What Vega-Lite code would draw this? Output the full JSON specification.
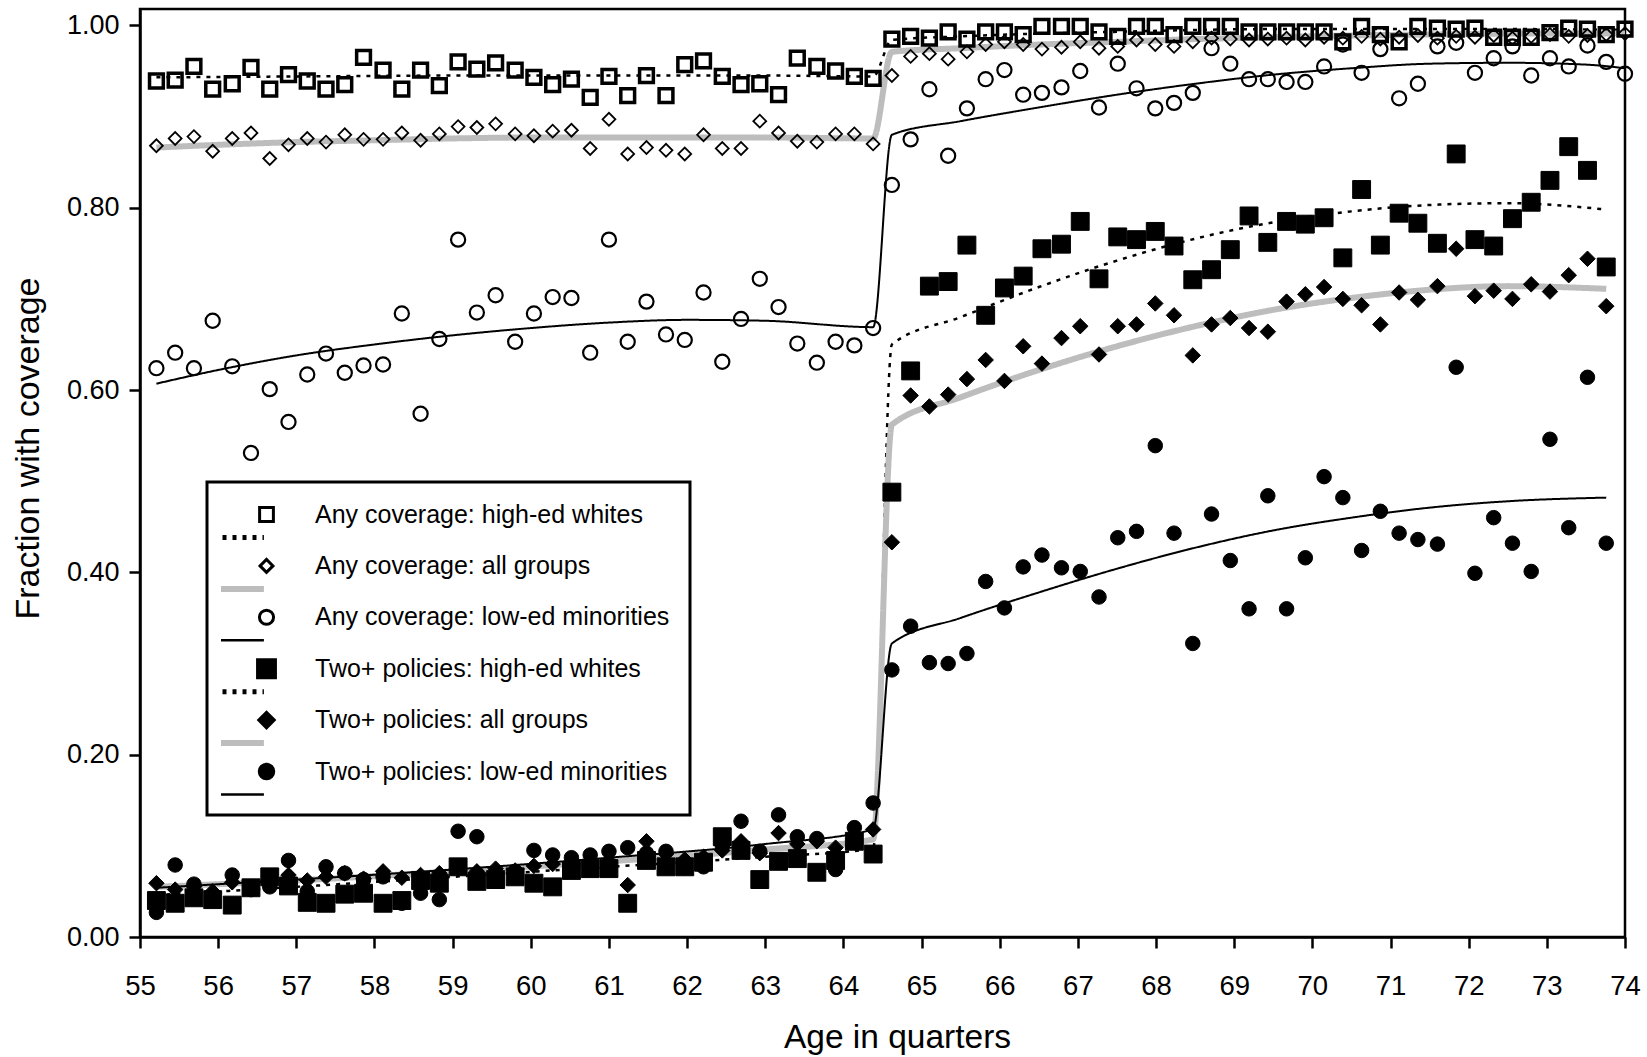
{
"$schema": "https://vega.github.io/schema/vega-lite/v6.json",
"width": 1485, "height": 928,
"autosize": {"type": "none"},
"padding": {"left": 140, "top": 9, "right": 22, "bottom": 120},
"background": "white",
"config": {
  "view": {"stroke": "black", "strokeWidth": 2.5},
  "font": "Liberation Sans",
  "axis": {"domainColor": "black", "domainWidth": 2.5, "tickColor": "black", "tickWidth": 2.5, "tickSize": 11, "labelColor": "black", "titleColor": "black", "labelFont": "Liberation Sans", "titleFont": "Liberation Sans", "titleFontWeight": "normal", "grid": false},
  "legend": {"labelFont": "Liberation Sans", "labelColor": "black", "strokeWidth": 3}
},
"resolve": {"scale": {"strokeWidth": "independent"}},
"datasets": {
"fits": [
{"fit":"a","age":55.21,"frac":0.943},{"fit":"a","age":57,"frac":0.944},{"fit":"a","age":59,"frac":0.945},{"fit":"a","age":61,"frac":0.945},{"fit":"a","age":63,"frac":0.945},{"fit":"a","age":64.38,"frac":0.944},{"fit":"a","age":64.62,"frac":0.984},{"fit":"a","age":65.5,"frac":0.988},{"fit":"a","age":66.5,"frac":0.991},{"fit":"a","age":67.5,"frac":0.993},{"fit":"a","age":68.5,"frac":0.995},{"fit":"a","age":69.5,"frac":0.996},{"fit":"a","age":70.5,"frac":0.996},{"fit":"a","age":71.5,"frac":0.996},{"fit":"a","age":72.5,"frac":0.996},{"fit":"a","age":74.0,"frac":0.995},
{"fit":"b","age":55.21,"frac":0.866},{"fit":"b","age":56,"frac":0.869},{"fit":"b","age":57,"frac":0.872},{"fit":"b","age":58,"frac":0.874},{"fit":"b","age":59,"frac":0.876},{"fit":"b","age":60,"frac":0.877},{"fit":"b","age":61,"frac":0.877},{"fit":"b","age":62,"frac":0.877},{"fit":"b","age":63,"frac":0.877},{"fit":"b","age":64.38,"frac":0.876},{"fit":"b","age":64.62,"frac":0.971},{"fit":"b","age":65.5,"frac":0.975},{"fit":"b","age":66.5,"frac":0.979},{"fit":"b","age":67.5,"frac":0.982},{"fit":"b","age":68.5,"frac":0.985},{"fit":"b","age":69.5,"frac":0.987},{"fit":"b","age":70.5,"frac":0.989},{"fit":"b","age":71.5,"frac":0.990},{"fit":"b","age":72.5,"frac":0.991},{"fit":"b","age":74.0,"frac":0.991},
{"fit":"c","age":55.21,"frac":0.607},{"fit":"c","age":56,"frac":0.622},{"fit":"c","age":57,"frac":0.638},{"fit":"c","age":58,"frac":0.650},{"fit":"c","age":59,"frac":0.660},{"fit":"c","age":60,"frac":0.668},{"fit":"c","age":61,"frac":0.674},{"fit":"c","age":62,"frac":0.677},{"fit":"c","age":63,"frac":0.676},{"fit":"c","age":64.38,"frac":0.669},{"fit":"c","age":64.62,"frac":0.880},{"fit":"c","age":65.5,"frac":0.895},{"fit":"c","age":66.5,"frac":0.910},{"fit":"c","age":67.5,"frac":0.924},{"fit":"c","age":68.5,"frac":0.936},{"fit":"c","age":69.5,"frac":0.946},{"fit":"c","age":70.5,"frac":0.953},{"fit":"c","age":71.5,"frac":0.958},{"fit":"c","age":72.5,"frac":0.959},{"fit":"c","age":73.5,"frac":0.957},{"fit":"c","age":74.0,"frac":0.953},
{"fit":"d","age":55.21,"frac":0.046},{"fit":"d","age":57,"frac":0.055},{"fit":"d","age":59,"frac":0.066},{"fit":"d","age":61,"frac":0.077},{"fit":"d","age":63,"frac":0.088},{"fit":"d","age":64.38,"frac":0.097},{"fit":"d","age":64.62,"frac":0.650},{"fit":"d","age":65.5,"frac":0.680},{"fit":"d","age":66.5,"frac":0.713},{"fit":"d","age":67.5,"frac":0.742},{"fit":"d","age":68.5,"frac":0.766},{"fit":"d","age":69.5,"frac":0.784},{"fit":"d","age":70.5,"frac":0.796},{"fit":"d","age":71.5,"frac":0.803},{"fit":"d","age":72.5,"frac":0.805},{"fit":"d","age":73.76,"frac":0.798},
{"fit":"e","age":55.21,"frac":0.055},{"fit":"e","age":57,"frac":0.062},{"fit":"e","age":59,"frac":0.072},{"fit":"e","age":61,"frac":0.083},{"fit":"e","age":63,"frac":0.096},{"fit":"e","age":64.38,"frac":0.107},{"fit":"e","age":64.62,"frac":0.562},{"fit":"e","age":65.5,"frac":0.592},{"fit":"e","age":66.5,"frac":0.622},{"fit":"e","age":67.5,"frac":0.648},{"fit":"e","age":68.5,"frac":0.670},{"fit":"e","age":69.5,"frac":0.688},{"fit":"e","age":70.5,"frac":0.701},{"fit":"e","age":71.5,"frac":0.710},{"fit":"e","age":72.5,"frac":0.714},{"fit":"e","age":73.76,"frac":0.711},
{"fit":"f","age":55.21,"frac":0.054},{"fit":"f","age":57,"frac":0.063},{"fit":"f","age":59,"frac":0.074},{"fit":"f","age":61,"frac":0.087},{"fit":"f","age":63,"frac":0.102},{"fit":"f","age":64.38,"frac":0.118},{"fit":"f","age":64.62,"frac":0.322},{"fit":"f","age":65.5,"frac":0.350},{"fit":"f","age":66.5,"frac":0.378},{"fit":"f","age":67.5,"frac":0.404},{"fit":"f","age":68.5,"frac":0.427},{"fit":"f","age":69.5,"frac":0.446},{"fit":"f","age":70.5,"frac":0.460},{"fit":"f","age":71.5,"frac":0.471},{"fit":"f","age":72.5,"frac":0.478},{"fit":"f","age":73.76,"frac":0.482}
],
"pts": [
{"g":"A","age":55.21,"frac":0.939},{"g":"A","age":55.45,"frac":0.940},{"g":"A","age":55.69,"frac":0.955},{"g":"A","age":55.93,"frac":0.930},{"g":"A","age":56.18,"frac":0.936},{"g":"A","age":56.42,"frac":0.954},{"g":"A","age":56.66,"frac":0.930},{"g":"A","age":56.90,"frac":0.946},{"g":"A","age":57.14,"frac":0.939},{"g":"A","age":57.38,"frac":0.930},{"g":"A","age":57.62,"frac":0.935},{"g":"A","age":57.86,"frac":0.965},{"g":"A","age":58.11,"frac":0.951},{"g":"A","age":58.35,"frac":0.930},{"g":"A","age":58.59,"frac":0.951},{"g":"A","age":58.83,"frac":0.934},{"g":"A","age":59.07,"frac":0.960},{"g":"A","age":59.31,"frac":0.952},{"g":"A","age":59.55,"frac":0.959},{"g":"A","age":59.80,"frac":0.951},{"g":"A","age":60.04,"frac":0.943},{"g":"A","age":60.28,"frac":0.935},{"g":"A","age":60.52,"frac":0.941},{"g":"A","age":60.76,"frac":0.921},{"g":"A","age":61.00,"frac":0.944},{"g":"A","age":61.24,"frac":0.923},{"g":"A","age":61.48,"frac":0.945},{"g":"A","age":61.73,"frac":0.923},{"g":"A","age":61.97,"frac":0.957},{"g":"A","age":62.21,"frac":0.961},{"g":"A","age":62.45,"frac":0.944},{"g":"A","age":62.69,"frac":0.935},{"g":"A","age":62.93,"frac":0.936},{"g":"A","age":63.17,"frac":0.924},{"g":"A","age":63.41,"frac":0.964},{"g":"A","age":63.66,"frac":0.955},{"g":"A","age":63.90,"frac":0.950},{"g":"A","age":64.14,"frac":0.944},{"g":"A","age":64.38,"frac":0.942},
{"g":"A","age":64.62,"frac":0.985},{"g":"A","age":64.86,"frac":0.988},{"g":"A","age":65.10,"frac":0.986},{"g":"A","age":65.34,"frac":0.993},{"g":"A","age":65.58,"frac":0.985},{"g":"A","age":65.82,"frac":0.993},{"g":"A","age":66.06,"frac":0.993},{"g":"A","age":66.30,"frac":0.990},{"g":"A","age":66.54,"frac":0.999},{"g":"A","age":66.79,"frac":0.999},{"g":"A","age":67.03,"frac":0.999},{"g":"A","age":67.27,"frac":0.993},{"g":"A","age":67.51,"frac":0.988},{"g":"A","age":67.75,"frac":0.999},{"g":"A","age":67.99,"frac":0.999},{"g":"A","age":68.23,"frac":0.990},{"g":"A","age":68.47,"frac":0.999},{"g":"A","age":68.71,"frac":0.999},{"g":"A","age":68.95,"frac":0.999},{"g":"A","age":69.19,"frac":0.993},{"g":"A","age":69.43,"frac":0.993},{"g":"A","age":69.67,"frac":0.993},{"g":"A","age":69.91,"frac":0.993},{"g":"A","age":70.15,"frac":0.993},{"g":"A","age":70.39,"frac":0.982},{"g":"A","age":70.63,"frac":0.999},{"g":"A","age":70.87,"frac":0.990},{"g":"A","age":71.11,"frac":0.982},{"g":"A","age":71.35,"frac":0.999},{"g":"A","age":71.60,"frac":0.997},{"g":"A","age":71.84,"frac":0.996},{"g":"A","age":72.08,"frac":0.997},{"g":"A","age":72.32,"frac":0.987},{"g":"A","age":72.56,"frac":0.987},{"g":"A","age":72.80,"frac":0.987},{"g":"A","age":73.04,"frac":0.992},{"g":"A","age":73.28,"frac":0.997},{"g":"A","age":73.52,"frac":0.996},{"g":"A","age":73.76,"frac":0.990},{"g":"A","age":74.00,"frac":0.996},
{"g":"B","age":55.21,"frac":0.868},{"g":"B","age":55.45,"frac":0.876},{"g":"B","age":55.69,"frac":0.878},{"g":"B","age":55.93,"frac":0.862},{"g":"B","age":56.18,"frac":0.876},{"g":"B","age":56.42,"frac":0.882},{"g":"B","age":56.66,"frac":0.854},{"g":"B","age":56.90,"frac":0.869},{"g":"B","age":57.14,"frac":0.876},{"g":"B","age":57.38,"frac":0.872},{"g":"B","age":57.62,"frac":0.880},{"g":"B","age":57.86,"frac":0.875},{"g":"B","age":58.11,"frac":0.875},{"g":"B","age":58.35,"frac":0.882},{"g":"B","age":58.59,"frac":0.874},{"g":"B","age":58.83,"frac":0.881},{"g":"B","age":59.07,"frac":0.889},{"g":"B","age":59.31,"frac":0.888},{"g":"B","age":59.55,"frac":0.892},{"g":"B","age":59.80,"frac":0.881},{"g":"B","age":60.04,"frac":0.879},{"g":"B","age":60.28,"frac":0.884},{"g":"B","age":60.52,"frac":0.885},{"g":"B","age":60.76,"frac":0.865},{"g":"B","age":61.00,"frac":0.897},{"g":"B","age":61.24,"frac":0.859},{"g":"B","age":61.48,"frac":0.866},{"g":"B","age":61.73,"frac":0.863},{"g":"B","age":61.97,"frac":0.859},{"g":"B","age":62.21,"frac":0.880},{"g":"B","age":62.45,"frac":0.865},{"g":"B","age":62.69,"frac":0.865},{"g":"B","age":62.93,"frac":0.895},{"g":"B","age":63.17,"frac":0.882},{"g":"B","age":63.41,"frac":0.873},{"g":"B","age":63.66,"frac":0.872},{"g":"B","age":63.90,"frac":0.881},{"g":"B","age":64.14,"frac":0.881},{"g":"B","age":64.38,"frac":0.870},
{"g":"B","age":64.62,"frac":0.945},{"g":"B","age":64.86,"frac":0.966},{"g":"B","age":65.10,"frac":0.969},{"g":"B","age":65.34,"frac":0.963},{"g":"B","age":65.58,"frac":0.971},{"g":"B","age":65.82,"frac":0.979},{"g":"B","age":66.06,"frac":0.982},{"g":"B","age":66.30,"frac":0.979},{"g":"B","age":66.54,"frac":0.974},{"g":"B","age":66.79,"frac":0.976},{"g":"B","age":67.03,"frac":0.982},{"g":"B","age":67.27,"frac":0.975},{"g":"B","age":67.51,"frac":0.977},{"g":"B","age":67.75,"frac":0.984},{"g":"B","age":67.99,"frac":0.979},{"g":"B","age":68.23,"frac":0.977},{"g":"B","age":68.47,"frac":0.982},{"g":"B","age":68.71,"frac":0.986},{"g":"B","age":68.95,"frac":0.985},{"g":"B","age":69.19,"frac":0.984},{"g":"B","age":69.43,"frac":0.985},{"g":"B","age":69.67,"frac":0.986},{"g":"B","age":69.91,"frac":0.984},{"g":"B","age":70.15,"frac":0.987},{"g":"B","age":70.39,"frac":0.986},{"g":"B","age":70.63,"frac":0.988},{"g":"B","age":70.87,"frac":0.985},{"g":"B","age":71.11,"frac":0.987},{"g":"B","age":71.35,"frac":0.989},{"g":"B","age":71.60,"frac":0.986},{"g":"B","age":71.84,"frac":0.988},{"g":"B","age":72.08,"frac":0.987},{"g":"B","age":72.32,"frac":0.989},{"g":"B","age":72.56,"frac":0.986},{"g":"B","age":72.80,"frac":0.988},{"g":"B","age":73.04,"frac":0.990},{"g":"B","age":73.28,"frac":0.988},{"g":"B","age":73.52,"frac":0.989},{"g":"B","age":73.76,"frac":0.990},{"g":"B","age":74.00,"frac":0.991},
{"g":"C","age":55.21,"frac":0.624},{"g":"C","age":55.45,"frac":0.641},{"g":"C","age":55.69,"frac":0.624},{"g":"C","age":55.93,"frac":0.676},{"g":"C","age":56.18,"frac":0.626},{"g":"C","age":56.42,"frac":0.531},{"g":"C","age":56.66,"frac":0.601},{"g":"C","age":56.90,"frac":0.565},{"g":"C","age":57.14,"frac":0.617},{"g":"C","age":57.38,"frac":0.640},{"g":"C","age":57.62,"frac":0.619},{"g":"C","age":57.86,"frac":0.627},{"g":"C","age":58.11,"frac":0.628},{"g":"C","age":58.35,"frac":0.684},{"g":"C","age":58.59,"frac":0.574},{"g":"C","age":58.83,"frac":0.656},{"g":"C","age":59.07,"frac":0.765},{"g":"C","age":59.31,"frac":0.685},{"g":"C","age":59.55,"frac":0.704},{"g":"C","age":59.80,"frac":0.653},{"g":"C","age":60.04,"frac":0.684},{"g":"C","age":60.28,"frac":0.702},{"g":"C","age":60.52,"frac":0.701},{"g":"C","age":60.76,"frac":0.641},{"g":"C","age":61.00,"frac":0.765},{"g":"C","age":61.24,"frac":0.653},{"g":"C","age":61.48,"frac":0.697},{"g":"C","age":61.73,"frac":0.661},{"g":"C","age":61.97,"frac":0.655},{"g":"C","age":62.21,"frac":0.707},{"g":"C","age":62.45,"frac":0.631},{"g":"C","age":62.69,"frac":0.678},{"g":"C","age":62.93,"frac":0.722},{"g":"C","age":63.17,"frac":0.691},{"g":"C","age":63.41,"frac":0.651},{"g":"C","age":63.66,"frac":0.630},{"g":"C","age":63.90,"frac":0.653},{"g":"C","age":64.14,"frac":0.649},{"g":"C","age":64.38,"frac":0.668},
{"g":"C","age":64.62,"frac":0.825},{"g":"C","age":64.86,"frac":0.875},{"g":"C","age":65.10,"frac":0.930},{"g":"C","age":65.34,"frac":0.857},{"g":"C","age":65.58,"frac":0.909},{"g":"C","age":65.82,"frac":0.941},{"g":"C","age":66.06,"frac":0.951},{"g":"C","age":66.30,"frac":0.924},{"g":"C","age":66.54,"frac":0.926},{"g":"C","age":66.79,"frac":0.932},{"g":"C","age":67.03,"frac":0.950},{"g":"C","age":67.27,"frac":0.910},{"g":"C","age":67.51,"frac":0.958},{"g":"C","age":67.75,"frac":0.931},{"g":"C","age":67.99,"frac":0.909},{"g":"C","age":68.23,"frac":0.915},{"g":"C","age":68.47,"frac":0.926},{"g":"C","age":68.71,"frac":0.975},{"g":"C","age":68.95,"frac":0.958},{"g":"C","age":69.19,"frac":0.941},{"g":"C","age":69.43,"frac":0.941},{"g":"C","age":69.67,"frac":0.938},{"g":"C","age":69.91,"frac":0.938},{"g":"C","age":70.15,"frac":0.955},{"g":"C","age":70.39,"frac":0.979},{"g":"C","age":70.63,"frac":0.948},{"g":"C","age":70.87,"frac":0.974},{"g":"C","age":71.11,"frac":0.920},{"g":"C","age":71.35,"frac":0.936},{"g":"C","age":71.60,"frac":0.977},{"g":"C","age":71.84,"frac":0.981},{"g":"C","age":72.08,"frac":0.948},{"g":"C","age":72.32,"frac":0.964},{"g":"C","age":72.56,"frac":0.977},{"g":"C","age":72.80,"frac":0.945},{"g":"C","age":73.04,"frac":0.964},{"g":"C","age":73.28,"frac":0.955},{"g":"C","age":73.52,"frac":0.978},{"g":"C","age":73.76,"frac":0.960},{"g":"C","age":74.00,"frac":0.947},
{"g":"D","age":55.21,"frac":0.040},{"g":"D","age":55.45,"frac":0.037},{"g":"D","age":55.69,"frac":0.043},{"g":"D","age":55.93,"frac":0.041},{"g":"D","age":56.18,"frac":0.035},{"g":"D","age":56.42,"frac":0.054},{"g":"D","age":56.66,"frac":0.066},{"g":"D","age":56.90,"frac":0.056},{"g":"D","age":57.14,"frac":0.038},{"g":"D","age":57.38,"frac":0.037},{"g":"D","age":57.62,"frac":0.047},{"g":"D","age":57.86,"frac":0.048},{"g":"D","age":58.11,"frac":0.037},{"g":"D","age":58.35,"frac":0.040},{"g":"D","age":58.59,"frac":0.062},{"g":"D","age":58.83,"frac":0.059},{"g":"D","age":59.07,"frac":0.077},{"g":"D","age":59.31,"frac":0.061},{"g":"D","age":59.55,"frac":0.063},{"g":"D","age":59.80,"frac":0.066},{"g":"D","age":60.04,"frac":0.059},{"g":"D","age":60.28,"frac":0.055},{"g":"D","age":60.52,"frac":0.073},{"g":"D","age":60.76,"frac":0.075},{"g":"D","age":61.00,"frac":0.075},{"g":"D","age":61.24,"frac":0.037},{"g":"D","age":61.48,"frac":0.084},{"g":"D","age":61.73,"frac":0.077},{"g":"D","age":61.97,"frac":0.077},{"g":"D","age":62.21,"frac":0.082},{"g":"D","age":62.45,"frac":0.110},{"g":"D","age":62.69,"frac":0.095},{"g":"D","age":62.93,"frac":0.063},{"g":"D","age":63.17,"frac":0.083},{"g":"D","age":63.41,"frac":0.086},{"g":"D","age":63.66,"frac":0.071},{"g":"D","age":63.90,"frac":0.084},{"g":"D","age":64.14,"frac":0.105},{"g":"D","age":64.38,"frac":0.091},
{"g":"D","age":64.62,"frac":0.488},{"g":"D","age":64.86,"frac":0.621},{"g":"D","age":65.10,"frac":0.714},{"g":"D","age":65.34,"frac":0.719},{"g":"D","age":65.58,"frac":0.759},{"g":"D","age":65.82,"frac":0.682},{"g":"D","age":66.06,"frac":0.712},{"g":"D","age":66.30,"frac":0.725},{"g":"D","age":66.54,"frac":0.755},{"g":"D","age":66.79,"frac":0.760},{"g":"D","age":67.03,"frac":0.785},{"g":"D","age":67.27,"frac":0.722},{"g":"D","age":67.51,"frac":0.768},{"g":"D","age":67.75,"frac":0.765},{"g":"D","age":67.99,"frac":0.774},{"g":"D","age":68.23,"frac":0.758},{"g":"D","age":68.47,"frac":0.721},{"g":"D","age":68.71,"frac":0.732},{"g":"D","age":68.95,"frac":0.754},{"g":"D","age":69.19,"frac":0.791},{"g":"D","age":69.43,"frac":0.762},{"g":"D","age":69.67,"frac":0.785},{"g":"D","age":69.91,"frac":0.782},{"g":"D","age":70.15,"frac":0.789},{"g":"D","age":70.39,"frac":0.745},{"g":"D","age":70.63,"frac":0.820},{"g":"D","age":70.87,"frac":0.759},{"g":"D","age":71.11,"frac":0.794},{"g":"D","age":71.35,"frac":0.783},{"g":"D","age":71.60,"frac":0.761},{"g":"D","age":71.84,"frac":0.859},{"g":"D","age":72.08,"frac":0.765},{"g":"D","age":72.32,"frac":0.758},{"g":"D","age":72.56,"frac":0.788},{"g":"D","age":72.80,"frac":0.806},{"g":"D","age":73.04,"frac":0.830},{"g":"D","age":73.28,"frac":0.867},{"g":"D","age":73.52,"frac":0.841},{"g":"D","age":73.76,"frac":0.735},
{"g":"E","age":55.21,"frac":0.059},{"g":"E","age":55.45,"frac":0.052},{"g":"E","age":55.69,"frac":0.055},{"g":"E","age":55.93,"frac":0.050},{"g":"E","age":56.18,"frac":0.060},{"g":"E","age":56.42,"frac":0.055},{"g":"E","age":56.66,"frac":0.058},{"g":"E","age":56.90,"frac":0.068},{"g":"E","age":57.14,"frac":0.062},{"g":"E","age":57.38,"frac":0.066},{"g":"E","age":57.62,"frac":0.070},{"g":"E","age":57.86,"frac":0.064},{"g":"E","age":58.11,"frac":0.072},{"g":"E","age":58.35,"frac":0.065},{"g":"E","age":58.59,"frac":0.068},{"g":"E","age":58.83,"frac":0.070},{"g":"E","age":59.07,"frac":0.076},{"g":"E","age":59.31,"frac":0.072},{"g":"E","age":59.55,"frac":0.075},{"g":"E","age":59.80,"frac":0.073},{"g":"E","age":60.04,"frac":0.078},{"g":"E","age":60.28,"frac":0.080},{"g":"E","age":60.52,"frac":0.082},{"g":"E","age":60.76,"frac":0.076},{"g":"E","age":61.00,"frac":0.083},{"g":"E","age":61.24,"frac":0.057},{"g":"E","age":61.48,"frac":0.105},{"g":"E","age":61.73,"frac":0.091},{"g":"E","age":61.97,"frac":0.085},{"g":"E","age":62.21,"frac":0.088},{"g":"E","age":62.45,"frac":0.095},{"g":"E","age":62.69,"frac":0.105},{"g":"E","age":62.93,"frac":0.092},{"g":"E","age":63.17,"frac":0.114},{"g":"E","age":63.41,"frac":0.102},{"g":"E","age":63.66,"frac":0.105},{"g":"E","age":63.90,"frac":0.098},{"g":"E","age":64.14,"frac":0.108},{"g":"E","age":64.38,"frac":0.118},
{"g":"E","age":64.62,"frac":0.433},{"g":"E","age":64.86,"frac":0.594},{"g":"E","age":65.10,"frac":0.582},{"g":"E","age":65.34,"frac":0.595},{"g":"E","age":65.58,"frac":0.612},{"g":"E","age":65.82,"frac":0.633},{"g":"E","age":66.06,"frac":0.610},{"g":"E","age":66.30,"frac":0.648},{"g":"E","age":66.54,"frac":0.629},{"g":"E","age":66.79,"frac":0.657},{"g":"E","age":67.03,"frac":0.670},{"g":"E","age":67.27,"frac":0.639},{"g":"E","age":67.51,"frac":0.670},{"g":"E","age":67.75,"frac":0.672},{"g":"E","age":67.99,"frac":0.695},{"g":"E","age":68.23,"frac":0.682},{"g":"E","age":68.47,"frac":0.638},{"g":"E","age":68.71,"frac":0.672},{"g":"E","age":68.95,"frac":0.679},{"g":"E","age":69.19,"frac":0.668},{"g":"E","age":69.43,"frac":0.664},{"g":"E","age":69.67,"frac":0.697},{"g":"E","age":69.91,"frac":0.705},{"g":"E","age":70.15,"frac":0.713},{"g":"E","age":70.39,"frac":0.700},{"g":"E","age":70.63,"frac":0.693},{"g":"E","age":70.87,"frac":0.672},{"g":"E","age":71.11,"frac":0.707},{"g":"E","age":71.35,"frac":0.699},{"g":"E","age":71.60,"frac":0.714},{"g":"E","age":71.84,"frac":0.755},{"g":"E","age":72.08,"frac":0.703},{"g":"E","age":72.32,"frac":0.709},{"g":"E","age":72.56,"frac":0.700},{"g":"E","age":72.80,"frac":0.716},{"g":"E","age":73.04,"frac":0.708},{"g":"E","age":73.28,"frac":0.726},{"g":"E","age":73.52,"frac":0.744},{"g":"E","age":73.76,"frac":0.692},
{"g":"F","age":55.21,"frac":0.027},{"g":"F","age":55.45,"frac":0.079},{"g":"F","age":55.69,"frac":0.058},{"g":"F","age":55.93,"frac":0.045},{"g":"F","age":56.18,"frac":0.068},{"g":"F","age":56.42,"frac":0.052},{"g":"F","age":56.66,"frac":0.055},{"g":"F","age":56.90,"frac":0.084},{"g":"F","age":57.14,"frac":0.050},{"g":"F","age":57.38,"frac":0.077},{"g":"F","age":57.62,"frac":0.070},{"g":"F","age":57.86,"frac":0.063},{"g":"F","age":58.11,"frac":0.066},{"g":"F","age":58.35,"frac":0.037},{"g":"F","age":58.59,"frac":0.048},{"g":"F","age":58.83,"frac":0.041},{"g":"F","age":59.07,"frac":0.116},{"g":"F","age":59.31,"frac":0.110},{"g":"F","age":59.55,"frac":0.068},{"g":"F","age":59.80,"frac":0.072},{"g":"F","age":60.04,"frac":0.095},{"g":"F","age":60.28,"frac":0.090},{"g":"F","age":60.52,"frac":0.087},{"g":"F","age":60.76,"frac":0.090},{"g":"F","age":61.00,"frac":0.094},{"g":"F","age":61.24,"frac":0.098},{"g":"F","age":61.48,"frac":0.092},{"g":"F","age":61.73,"frac":0.094},{"g":"F","age":61.97,"frac":0.076},{"g":"F","age":62.21,"frac":0.077},{"g":"F","age":62.45,"frac":0.100},{"g":"F","age":62.69,"frac":0.127},{"g":"F","age":62.93,"frac":0.094},{"g":"F","age":63.17,"frac":0.134},{"g":"F","age":63.41,"frac":0.110},{"g":"F","age":63.66,"frac":0.108},{"g":"F","age":63.90,"frac":0.074},{"g":"F","age":64.14,"frac":0.120},{"g":"F","age":64.38,"frac":0.147},
{"g":"F","age":64.62,"frac":0.293},{"g":"F","age":64.86,"frac":0.341},{"g":"F","age":65.10,"frac":0.301},{"g":"F","age":65.34,"frac":0.300},{"g":"F","age":65.58,"frac":0.311},{"g":"F","age":65.82,"frac":0.390},{"g":"F","age":66.06,"frac":0.361},{"g":"F","age":66.30,"frac":0.406},{"g":"F","age":66.54,"frac":0.419},{"g":"F","age":66.79,"frac":0.405},{"g":"F","age":67.03,"frac":0.401},{"g":"F","age":67.27,"frac":0.373},{"g":"F","age":67.51,"frac":0.438},{"g":"F","age":67.75,"frac":0.445},{"g":"F","age":67.99,"frac":0.539},{"g":"F","age":68.23,"frac":0.443},{"g":"F","age":68.47,"frac":0.322},{"g":"F","age":68.71,"frac":0.464},{"g":"F","age":68.95,"frac":0.413},{"g":"F","age":69.19,"frac":0.360},{"g":"F","age":69.43,"frac":0.484},{"g":"F","age":69.67,"frac":0.360},{"g":"F","age":69.91,"frac":0.416},{"g":"F","age":70.15,"frac":0.505},{"g":"F","age":70.39,"frac":0.482},{"g":"F","age":70.63,"frac":0.424},{"g":"F","age":70.87,"frac":0.467},{"g":"F","age":71.11,"frac":0.443},{"g":"F","age":71.35,"frac":0.436},{"g":"F","age":71.60,"frac":0.431},{"g":"F","age":71.84,"frac":0.625},{"g":"F","age":72.08,"frac":0.399},{"g":"F","age":72.32,"frac":0.460},{"g":"F","age":72.56,"frac":0.432},{"g":"F","age":72.80,"frac":0.401},{"g":"F","age":73.04,"frac":0.546},{"g":"F","age":73.28,"frac":0.449},{"g":"F","age":73.52,"frac":0.614},{"g":"F","age":73.76,"frac":0.432}
]
},
"layer": [
{
  "data": {"name": "fits"},
  "mark": {"type": "line", "interpolate": "monotone"},
  "encoding": {
    "x": {"field": "age", "type": "quantitative", "scale": {"domain": [55, 74], "nice": false, "zero": false},
      "axis": {"values": [55,55.25,55.5,55.75,56,56.25,56.5,56.75,57,57.25,57.5,57.75,58,58.25,58.5,58.75,59,59.25,59.5,59.75,60,60.25,60.5,60.75,61,61.25,61.5,61.75,62,62.25,62.5,62.75,63,63.25,63.5,63.75,64,64.25,64.5,64.75,65,65.25,65.5,65.75,66,66.25,66.5,66.75,67,67.25,67.5,67.75,68,68.25,68.5,68.75,69,69.25,69.5,69.75,70,70.25,70.5,70.75,71,71.25,71.5,71.75,72,72.25,72.5,72.75,73,73.25,73.5,73.75,74],
        "labelExpr": "datum.value % 1 == 0 ? format(datum.value, 'd') : ''",
        "labelFontSize": 27.5, "labelBaseline": "alphabetic", "labelPadding": 46, "labelOverlap": false, "labelFlush": false,
        "title": "Age in quarters", "titleFontSize": 33.5, "titleX": 757, "titleY": 110, "titleBaseline": "alphabetic", "titleAlign": "center"}},
    "y": {"field": "frac", "type": "quantitative", "scale": {"domain": [0, 1.018], "nice": false},
      "axis": {"values": [0, 0.2, 0.4, 0.6, 0.8, 1.0], "format": ".2f", "labelFontSize": 27, "labelPadding": 10,
        "title": "Fraction with coverage", "titleFontSize": 34, "titleAngle": -90, "titleX": -102, "titleY": 439, "titleBaseline": "alphabetic", "titleAlign": "center"}},
    "stroke": {"field": "fit", "type": "nominal",
      "scale": {"domain": ["a","b","c","d","e","f"], "range": ["#000000","#bdbdbd","#000000","#000000","#bdbdbd","#000000"]},
      "legend": {"orient": "none", "legendX": 63, "legendY": 498, "title": null, "labelFontSize": 25, "labelOpacity": 0, "labelLimit": 400, "padding": 18, "rowPadding": 25.4, "clipHeight": 25, "symbolSize": 6724, "symbolType": "stroke", "symbolOffset": 0,
        "encode": {"symbols": {"update": {
          "strokeWidth": {"signal": "datum.value == 'b' || datum.value == 'e' ? 6 : datum.value == 'a' || datum.value == 'd' ? 5 : 2.5"},
          "strokeDash": {"signal": "datum.value == 'a' || datum.value == 'd' ? [5, 9] : [1, 0]"}}}}}},
    "strokeDash": {"field": "fit", "type": "nominal",
      "scale": {"domain": ["a","b","c","d","e","f"], "range": [[4,6],[1,0],[1,0],[4,6],[1,0],[1,0]]}},
    "strokeWidth": {"field": "fit", "type": "nominal", "legend": null,
      "scale": {"type": "ordinal", "domain": ["a","b","c","d","e","f"], "range": [2.5,6,2,2.5,6,2]}}
  }
},
{
  "data": {"name": "pts"},
  "mark": {"type": "point", "filled": true, "stroke": "black", "opacity": 1},
  "encoding": {
    "x": {"field": "age", "type": "quantitative"},
    "y": {"field": "frac", "type": "quantitative"},
    "shape": {"field": "g", "type": "nominal",
      "scale": {"domain": ["A","B","C","D","E","F"], "range": ["square","diamond","circle","square","diamond","circle"]},
      "legend": {"orient": "none", "legendX": 67, "legendY": 473, "title": "·", "titleOrient": "bottom", "titleFontSize": 10, "titlePadding": 0, "titleColor": "rgba(0,0,0,0)",
        "labelExpr": "datum.value == 'A' ? 'Any coverage: high-ed whites' : datum.value == 'B' ? 'Any coverage: all groups' : datum.value == 'C' ? 'Any coverage: low-ed minorities' : datum.value == 'D' ? 'Two+ policies: high-ed whites' : datum.value == 'E' ? 'Two+ policies: all groups' : 'Two+ policies: low-ed minorities'",
        "labelFontSize": 25, "labelLimit": 400, "padding": 20, "rowPadding": 25.4, "clipHeight": 25, "strokeColor": "black",
        "symbolStrokeColor": "black", "symbolStrokeWidth": 3, "symbolOpacity": 1, "symbolOffset": 27, "labelOffset": 36,
        "encode": {"symbols": {"update": {"strokeWidth": {"signal": "datum.value == 'A' ? 3.5 : datum.value == 'B' ? 2 : datum.value == 'C' ? 2.4 : 1"}}}}}},
    "fill": {"field": "g", "type": "nominal",
      "scale": {"domain": ["A","B","C","D","E","F"], "range": ["transparent","transparent","transparent","#000000","#000000","#000000"]}},
    "size": {"field": "g", "type": "nominal",
      "scale": {"type": "ordinal", "domain": ["A","B","C","D","E","F"], "range": [190,165,200,320,240,210]}},
    "strokeWidth": {"field": "g", "type": "nominal", "legend": null,
      "scale": {"type": "ordinal", "domain": ["A","B","C","D","E","F"], "range": [3.5,1.8,2.2,1,1,1]}}
  }
}
]
}
